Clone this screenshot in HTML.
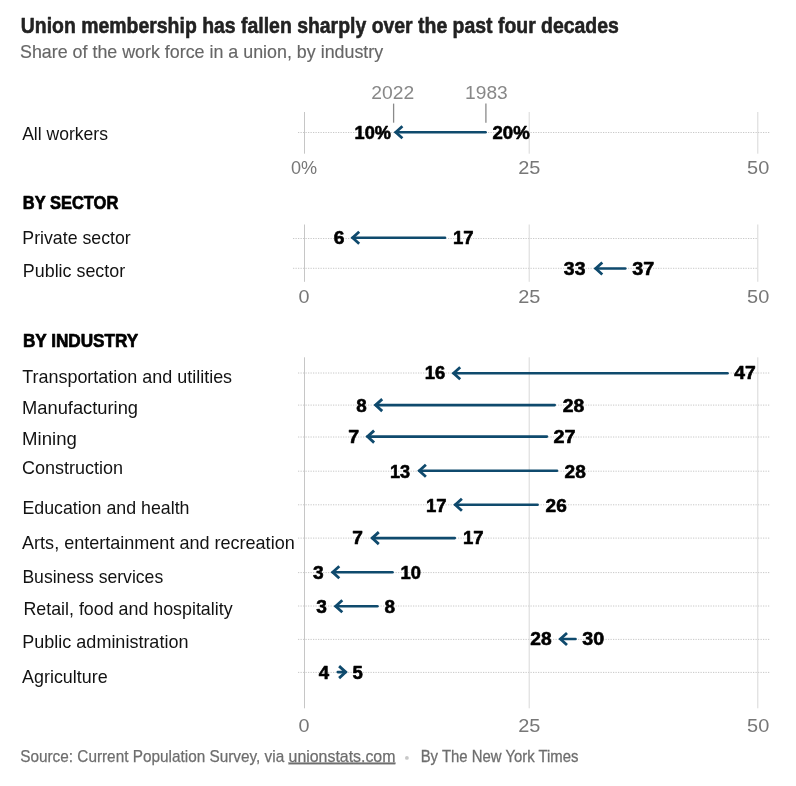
<!DOCTYPE html>
<html><head><meta charset="utf-8">
<style>
html,body{margin:0;padding:0;background:#fff;}
body{width:796px;height:786px;overflow:hidden;position:relative;}
svg{position:absolute;left:0;top:0;will-change:transform;}
text{font-family:"Liberation Sans",sans-serif;}
</style></head>
<body>
<svg width="796" height="786" viewBox="0 0 796 786">
<defs><style>
.g0{stroke:#c6c6c6;stroke-width:1;}
.g{stroke:#d8d8d8;stroke-width:1;}
.d{stroke:#c8c8c8;stroke-width:1;stroke-dasharray:1.25 1.25;}
.ar{stroke:#0f4a6d;stroke-width:2.6;fill:none;stroke-linecap:round;}
.ah{stroke:#0f4a6d;stroke-width:2.8;fill:none;stroke-linecap:butt;stroke-linejoin:miter;stroke-miterlimit:10;}
</style></defs>
<!-- Panel 1 -->
<line class="d" x1="298" y1="132.5" x2="770" y2="132.5"/>
<line class="g0" x1="304.5" y1="112" x2="304.5" y2="153.7"/>
<line class="g" x1="529.2" y1="112" x2="529.2" y2="153.7"/>
<line class="g" x1="757.8" y1="112" x2="757.8" y2="153.7"/>
<line stroke="#8a8a8a" stroke-width="1.3" x1="393.6" y1="103.6" x2="393.6" y2="122.7"/>
<line stroke="#8a8a8a" stroke-width="1.3" x1="485.9" y1="103.6" x2="485.9" y2="122.7"/>
<!-- Panel 2 -->
<line class="d" x1="293" y1="238.5" x2="757.5" y2="238.5"/>
<line class="d" x1="293" y1="268.3" x2="757.5" y2="268.3"/>
<line class="g0" x1="304.5" y1="224.5" x2="304.5" y2="281.8"/>
<line class="g" x1="529.2" y1="224.5" x2="529.2" y2="281.8"/>
<line class="g" x1="757.8" y1="224.5" x2="757.8" y2="281.8"/>
<!-- Panel 3 -->
<line class="d" x1="298" y1="373" x2="770" y2="373"/>
<line class="d" x1="298" y1="405.1" x2="770" y2="405.1"/>
<line class="d" x1="298" y1="437.0" x2="770" y2="437.0"/>
<line class="d" x1="298" y1="471.2" x2="770" y2="471.2"/>
<line class="d" x1="298" y1="504.8" x2="770" y2="504.8"/>
<line class="d" x1="298" y1="538.1" x2="770" y2="538.1"/>
<line class="d" x1="298" y1="572.6" x2="770" y2="572.6"/>
<line class="d" x1="298" y1="606.0" x2="770" y2="606.0"/>
<line class="d" x1="298" y1="639.4" x2="770" y2="639.4"/>
<line class="d" x1="298" y1="672.4" x2="770" y2="672.4"/>
<line class="g0" x1="304.5" y1="357.3" x2="304.5" y2="708.3"/>
<line class="g" x1="529.2" y1="357.3" x2="529.2" y2="708.3"/>
<line class="g" x1="757.8" y1="357.3" x2="757.8" y2="708.3"/>
<!-- arrows -->
<path class="ar" d="M485.60 132.3H395.80"/>
<path class="ah" d="M402.40 126.30L395.80 132.3L402.40 138.30"/>
<path class="ar" d="M445.00 237.7H352.60"/>
<path class="ah" d="M359.20 231.70L352.60 237.7L359.20 243.70"/>
<path class="ar" d="M625.30 268.5H595.70"/>
<path class="ah" d="M602.30 262.50L595.70 268.5L602.30 274.50"/>
<path class="ar" d="M727.50 373.3H453.60"/>
<path class="ah" d="M460.20 367.30L453.60 373.3L460.20 379.30"/>
<path class="ar" d="M554.70 405.1H375.60"/>
<path class="ah" d="M382.20 399.10L375.60 405.1L382.20 411.10"/>
<path class="ar" d="M546.90 436.6H367.50"/>
<path class="ah" d="M374.10 430.60L367.50 436.6L374.10 442.60"/>
<path class="ar" d="M557.00 470.8H419.30"/>
<path class="ah" d="M425.90 464.80L419.30 470.8L425.90 476.80"/>
<path class="ar" d="M537.60 504.8H455.30"/>
<path class="ah" d="M461.90 498.80L455.30 504.8L461.90 510.80"/>
<path class="ar" d="M454.80 538.1H372.20"/>
<path class="ah" d="M378.80 532.10L372.20 538.1L378.80 544.10"/>
<path class="ar" d="M392.50 572.2H332.70"/>
<path class="ah" d="M339.30 566.20L332.70 572.2L339.30 578.20"/>
<path class="ar" d="M377.40 606.2H335.70"/>
<path class="ah" d="M342.30 600.20L335.70 606.2L342.30 612.20"/>
<path class="ar" d="M575.50 639.0H560.40"/>
<path class="ah" d="M567.00 633.00L560.40 639.0L567.00 645.00"/>
<path class="ar" d="M337.80 672.1H345.70"/>
<path class="ah" d="M339.10 666.10L345.70 672.1L339.10 678.10"/>
<circle cx="406.9" cy="757.9" r="1.9" fill="#c8c8c8"/>

<text x="20.84" y="32.7" textLength="598.01" lengthAdjust="spacingAndGlyphs" style="font-size:21.5px;fill:#222;font-weight:bold;stroke:#222;stroke-width:0.55px;stroke-linejoin:round">Union membership has fallen sharply over the past four decades</text>
<text x="19.99" y="57.7" textLength="363.19" lengthAdjust="spacingAndGlyphs" style="font-size:18.5px;fill:#666;stroke:#666;stroke-width:0.15px">Share of the work force in a union, by industry</text>
<text x="371.23" y="98.8" textLength="42.93" lengthAdjust="spacingAndGlyphs" style="font-size:18.0px;fill:#888">2022</text>
<text x="465.09" y="98.8" textLength="42.62" lengthAdjust="spacingAndGlyphs" style="font-size:18.0px;fill:#888">1983</text>
<text x="22.14" y="139.7" textLength="85.81" lengthAdjust="spacingAndGlyphs" style="font-size:18.5px;fill:#121212">All workers</text>
<text x="354.62" y="138.8" textLength="36.35" lengthAdjust="spacingAndGlyphs" style="font-size:18.5px;fill:#000;font-weight:bold;stroke:#000;stroke-width:0.6px;stroke-linejoin:round">10%</text>
<text x="492.44" y="138.8" textLength="37.23" lengthAdjust="spacingAndGlyphs" style="font-size:18.5px;fill:#000;font-weight:bold;stroke:#000;stroke-width:0.6px;stroke-linejoin:round">20%</text>
<text x="291.07" y="173.8" textLength="26.16" lengthAdjust="spacingAndGlyphs" style="font-size:18.3px;fill:#777">0%</text>
<text x="518.27" y="173.7" textLength="22.17" lengthAdjust="spacingAndGlyphs" style="font-size:18.3px;fill:#777">25</text>
<text x="747.05" y="173.7" textLength="22.20" lengthAdjust="spacingAndGlyphs" style="font-size:18.3px;fill:#777">50</text>
<text x="22.82" y="208.7" textLength="95.46" lengthAdjust="spacingAndGlyphs" style="font-size:18.8px;fill:#000;font-weight:bold;stroke:#000;stroke-width:0.7px;stroke-linejoin:round">BY SECTOR</text>
<text x="22.34" y="243.9" textLength="108.38" lengthAdjust="spacingAndGlyphs" style="font-size:18.5px;fill:#121212">Private sector</text>
<text x="22.87" y="276.7" textLength="102.26" lengthAdjust="spacingAndGlyphs" style="font-size:18.5px;fill:#121212">Public sector</text>
<text x="333.65" y="243.8" textLength="10.70" lengthAdjust="spacingAndGlyphs" style="font-size:18.5px;fill:#000;font-weight:bold;stroke:#000;stroke-width:0.6px;stroke-linejoin:round">6</text>
<text x="452.91" y="243.8" textLength="20.62" lengthAdjust="spacingAndGlyphs" style="font-size:18.5px;fill:#000;font-weight:bold;stroke:#000;stroke-width:0.6px;stroke-linejoin:round">17</text>
<text x="563.88" y="274.8" textLength="21.52" lengthAdjust="spacingAndGlyphs" style="font-size:18.5px;fill:#000;font-weight:bold;stroke:#000;stroke-width:0.6px;stroke-linejoin:round">33</text>
<text x="632.31" y="274.8" textLength="21.98" lengthAdjust="spacingAndGlyphs" style="font-size:18.5px;fill:#000;font-weight:bold;stroke:#000;stroke-width:0.6px;stroke-linejoin:round">37</text>
<text x="298.51" y="302.5" textLength="11.00" lengthAdjust="spacingAndGlyphs" style="font-size:18.3px;fill:#777">0</text>
<text x="518.27" y="302.5" textLength="22.17" lengthAdjust="spacingAndGlyphs" style="font-size:18.3px;fill:#777">25</text>
<text x="747.05" y="302.5" textLength="22.20" lengthAdjust="spacingAndGlyphs" style="font-size:18.3px;fill:#777">50</text>
<text x="22.88" y="346.9" textLength="115.38" lengthAdjust="spacingAndGlyphs" style="font-size:18.8px;fill:#000;font-weight:bold;stroke:#000;stroke-width:0.7px;stroke-linejoin:round">BY INDUSTRY</text>
<text x="22.16" y="382.7" textLength="209.95" lengthAdjust="spacingAndGlyphs" style="font-size:18.5px;fill:#121212">Transportation and utilities</text>
<text x="22.05" y="413.8" textLength="116.00" lengthAdjust="spacingAndGlyphs" style="font-size:18.5px;fill:#121212">Manufacturing</text>
<text x="22.14" y="444.7" textLength="54.74" lengthAdjust="spacingAndGlyphs" style="font-size:18.5px;fill:#121212">Mining</text>
<text x="22.10" y="474.0" textLength="101.01" lengthAdjust="spacingAndGlyphs" style="font-size:18.5px;fill:#121212">Construction</text>
<text x="22.40" y="514.2" textLength="167.09" lengthAdjust="spacingAndGlyphs" style="font-size:18.5px;fill:#121212">Education and health</text>
<text x="22.09" y="548.9" textLength="272.63" lengthAdjust="spacingAndGlyphs" style="font-size:18.5px;fill:#121212">Arts, entertainment and recreation</text>
<text x="22.38" y="582.8" textLength="140.83" lengthAdjust="spacingAndGlyphs" style="font-size:18.5px;fill:#121212">Business services</text>
<text x="23.39" y="614.9" textLength="209.20" lengthAdjust="spacingAndGlyphs" style="font-size:18.5px;fill:#121212">Retail, food and hospitality</text>
<text x="22.35" y="648.1" textLength="166.07" lengthAdjust="spacingAndGlyphs" style="font-size:18.5px;fill:#121212">Public administration</text>
<text x="22.11" y="682.6" textLength="85.52" lengthAdjust="spacingAndGlyphs" style="font-size:18.5px;fill:#121212">Agriculture</text>
<text x="424.86" y="378.9" textLength="20.42" lengthAdjust="spacingAndGlyphs" style="font-size:18.5px;fill:#000;font-weight:bold;stroke:#000;stroke-width:0.6px;stroke-linejoin:round">16</text>
<text x="734.39" y="378.8" textLength="21.46" lengthAdjust="spacingAndGlyphs" style="font-size:18.5px;fill:#000;font-weight:bold;stroke:#000;stroke-width:0.6px;stroke-linejoin:round">47</text>
<text x="356.22" y="412.0" textLength="10.46" lengthAdjust="spacingAndGlyphs" style="font-size:18.5px;fill:#000;font-weight:bold;stroke:#000;stroke-width:0.6px;stroke-linejoin:round">8</text>
<text x="562.73" y="411.9" textLength="21.53" lengthAdjust="spacingAndGlyphs" style="font-size:18.5px;fill:#000;font-weight:bold;stroke:#000;stroke-width:0.6px;stroke-linejoin:round">28</text>
<text x="348.15" y="442.9" textLength="10.91" lengthAdjust="spacingAndGlyphs" style="font-size:18.5px;fill:#000;font-weight:bold;stroke:#000;stroke-width:0.6px;stroke-linejoin:round">7</text>
<text x="553.55" y="442.9" textLength="22.03" lengthAdjust="spacingAndGlyphs" style="font-size:18.5px;fill:#000;font-weight:bold;stroke:#000;stroke-width:0.6px;stroke-linejoin:round">27</text>
<text x="389.97" y="477.8" textLength="20.12" lengthAdjust="spacingAndGlyphs" style="font-size:18.5px;fill:#000;font-weight:bold;stroke:#000;stroke-width:0.6px;stroke-linejoin:round">13</text>
<text x="564.58" y="477.7" textLength="21.23" lengthAdjust="spacingAndGlyphs" style="font-size:18.5px;fill:#000;font-weight:bold;stroke:#000;stroke-width:0.6px;stroke-linejoin:round">28</text>
<text x="426.02" y="511.8" textLength="20.60" lengthAdjust="spacingAndGlyphs" style="font-size:18.5px;fill:#000;font-weight:bold;stroke:#000;stroke-width:0.6px;stroke-linejoin:round">17</text>
<text x="545.59" y="511.8" textLength="21.17" lengthAdjust="spacingAndGlyphs" style="font-size:18.5px;fill:#000;font-weight:bold;stroke:#000;stroke-width:0.6px;stroke-linejoin:round">26</text>
<text x="352.22" y="543.9" textLength="10.66" lengthAdjust="spacingAndGlyphs" style="font-size:18.5px;fill:#000;font-weight:bold;stroke:#000;stroke-width:0.6px;stroke-linejoin:round">7</text>
<text x="462.91" y="543.8" textLength="20.62" lengthAdjust="spacingAndGlyphs" style="font-size:18.5px;fill:#000;font-weight:bold;stroke:#000;stroke-width:0.6px;stroke-linejoin:round">17</text>
<text x="312.95" y="578.8" textLength="10.66" lengthAdjust="spacingAndGlyphs" style="font-size:18.5px;fill:#000;font-weight:bold;stroke:#000;stroke-width:0.6px;stroke-linejoin:round">3</text>
<text x="400.44" y="578.8" textLength="20.40" lengthAdjust="spacingAndGlyphs" style="font-size:18.5px;fill:#000;font-weight:bold;stroke:#000;stroke-width:0.6px;stroke-linejoin:round">10</text>
<text x="316.36" y="612.8" textLength="10.62" lengthAdjust="spacingAndGlyphs" style="font-size:18.5px;fill:#000;font-weight:bold;stroke:#000;stroke-width:0.6px;stroke-linejoin:round">3</text>
<text x="384.54" y="612.8" textLength="10.56" lengthAdjust="spacingAndGlyphs" style="font-size:18.5px;fill:#000;font-weight:bold;stroke:#000;stroke-width:0.6px;stroke-linejoin:round">8</text>
<text x="530.35" y="644.7" textLength="21.36" lengthAdjust="spacingAndGlyphs" style="font-size:18.5px;fill:#000;font-weight:bold;stroke:#000;stroke-width:0.6px;stroke-linejoin:round">28</text>
<text x="582.31" y="644.7" textLength="21.84" lengthAdjust="spacingAndGlyphs" style="font-size:18.5px;fill:#000;font-weight:bold;stroke:#000;stroke-width:0.6px;stroke-linejoin:round">30</text>
<text x="318.86" y="678.8" textLength="10.38" lengthAdjust="spacingAndGlyphs" style="font-size:18.5px;fill:#000;font-weight:bold;stroke:#000;stroke-width:0.6px;stroke-linejoin:round">4</text>
<text x="352.43" y="678.8" textLength="10.30" lengthAdjust="spacingAndGlyphs" style="font-size:18.5px;fill:#000;font-weight:bold;stroke:#000;stroke-width:0.6px;stroke-linejoin:round">5</text>
<text x="298.51" y="731.6" textLength="11.00" lengthAdjust="spacingAndGlyphs" style="font-size:18.3px;fill:#777">0</text>
<text x="518.27" y="731.6" textLength="22.17" lengthAdjust="spacingAndGlyphs" style="font-size:18.3px;fill:#777">25</text>
<text x="747.05" y="731.6" textLength="22.20" lengthAdjust="spacingAndGlyphs" style="font-size:18.3px;fill:#777">50</text>
<text x="20.20" y="761.6" textLength="263.98" lengthAdjust="spacingAndGlyphs" style="font-size:16.4px;fill:#6e6e6e;stroke:#6e6e6e;stroke-width:0.25px">Source: Current Population Survey, via</text>
<text x="288.57" y="761.6" textLength="106.88" lengthAdjust="spacingAndGlyphs" style="font-size:16.4px;fill:#6e6e6e;stroke:#6e6e6e;stroke-width:0.25px" text-decoration="underline">unionstats.com</text>
<text x="420.70" y="761.6" textLength="157.83" lengthAdjust="spacingAndGlyphs" style="font-size:16.4px;fill:#6e6e6e;stroke:#6e6e6e;stroke-width:0.3px">By The New York Times</text>
</svg>
</body></html>
